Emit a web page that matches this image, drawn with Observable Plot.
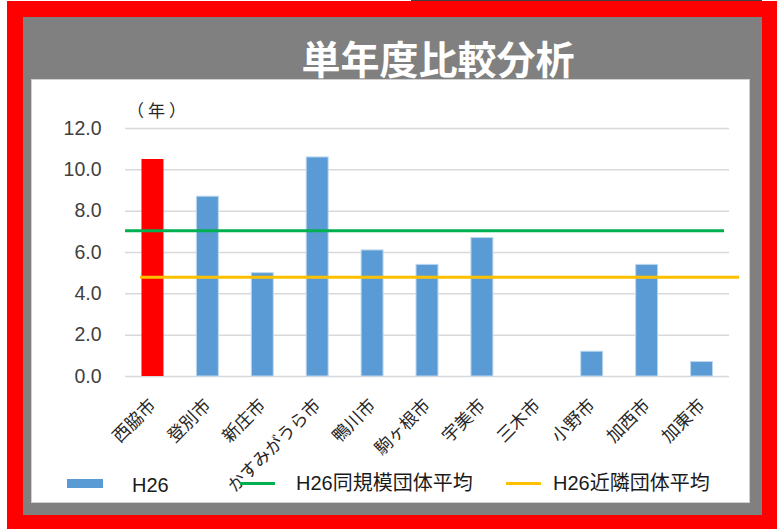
<!DOCTYPE html>
<html>
<head>
<meta charset="utf-8">
<script src="https://cdn.jsdelivr.net/npm/d3@7"></script>
<script src="https://cdn.jsdelivr.net/npm/@observablehq/plot@0.6"></script>
<style>
  html, body { margin: 0; padding: 0; background: #fff; }
  #wrap { position: relative; width: 777px; height: 529px; overflow: hidden; font-family: "Liberation Sans", "Noto Sans CJK JP", sans-serif; }
  .abs { position: absolute; }
  #title { left: 138px; top: 37px; width: 600px; height: 40px; line-height: 40px; text-align: center; color: #fff; font-weight: bold; font-size: 39px; font-family: "Noto Sans CJK JP", sans-serif; white-space: nowrap; }
  #unit { left: 127px; top: 99px; font-size: 17px; letter-spacing: 4px; line-height: 22px; color: #262626; font-family: "Noto Sans CJK JP", sans-serif; white-space: nowrap; }
  .lgtext { font-size: 20px; line-height: 24px; color: #1a1a1a; white-space: nowrap; }
  #chart { left: 0; top: 0; }
</style>
</head>
<body>
<div id="wrap">
  <div class="abs" style="left:7px;top:1px;width:770px;height:528px;background:#ff0000"></div>
  <div class="abs" style="left:411px;top:0;width:351px;height:1px;background:#404040"></div>
  <div class="abs" style="left:23px;top:17px;width:739px;height:498px;background:#808080"></div>
  <div class="abs" style="left:32px;top:80px;width:717px;height:422px;background:#ffffff;box-shadow:0 0 0 1px #d0d0d0"></div>
  <div id="title" class="abs"></div>
  <div id="unit" class="abs"></div>
  <div id="chart" class="abs"></div>
  <div id="legend"></div>
</div>
<script>
// ---- data ----
const titleText = "単年度比較分析";
const unitText = "（年）";
const cities = ["西脇市", "登別市", "新庄市", "かすみがうら市", "鴨川市", "駒ヶ根市", "宇美市", "三木市", "小野市", "加西市", "加東市"];
const h26 = [10.5, 8.7, 5.0, 10.6, 6.1, 5.4, 6.7, null, 1.2, 5.4, 0.7];
const highlightCity = "西脇市";
const sameScaleAvg = 7.05;   // H26同規模団体平均
const nearbyAvg = 4.8;       // H26近隣団体平均
const yTicks = [0, 2, 4, 6, 8, 10, 12];
const seriesNames = ["H26", "H26同規模団体平均", "H26近隣団体平均"];

// ---- colours ----
const blue = "#5b9bd5", red = "#ff0000", green = "#00b050", yellow = "#ffc000";

const data = cities.map((c, i) => ({city: c, value: h26[i]}));

document.getElementById("title").textContent = titleText;
document.getElementById("unit").textContent = unitText;

const chart = Plot.plot({
  width: 777,
  height: 529,
  marginLeft: 125,
  marginRight: 48,
  marginTop: 128,
  marginBottom: 153,
  style: {background: "transparent", fontFamily: "'Liberation Sans', 'Noto Sans CJK JP', sans-serif", overflow: "visible"},
  x: {domain: cities, paddingInner: 0.6, paddingOuter: 0.3, round: false, label: null},
  y: {domain: [0, 12], ticks: yTicks, label: null},
  marks: [
    Plot.gridY({ticks: yTicks, stroke: "#d9d9d9", strokeOpacity: 1, strokeWidth: 1.5}),
    Plot.axisY({ticks: yTicks, tickFormat: d3.format(".1f"), tickSize: 0, tickPadding: 24, fontSize: 19.5, fill: "#404040", label: null}),
    Plot.axisX({tickRotate: -45, tickSize: 0, tickPadding: 26, fontSize: 17.5, fill: "#262626", label: null, fontFamily: "'Noto Sans CJK JP', sans-serif"}),
    Plot.barY(data.filter(d => d.value != null && d.city !== highlightCity), {x: "city", y: "value", fill: blue, stroke: "#bdd7ee", strokeWidth: 1}),
    Plot.barY(data.filter(d => d.city === highlightCity), {x: "city", y: "value", fill: red}),
    Plot.ruleY([sameScaleAvg], {stroke: green, strokeWidth: 3, insetRight: 5}),
    Plot.ruleY([nearbyAvg], {stroke: yellow, strokeWidth: 3, insetLeft: 15, insetRight: -10})
  ]
});
document.getElementById("chart").appendChild(chart);

// ---- legend ----
const legend = document.getElementById("legend");
function add(html) { legend.insertAdjacentHTML("beforeend", html); }
add(`<div class="abs" style="left:67px;top:479px;width:36px;height:9px;background:${blue}"></div>`);
add(`<div class="abs lgtext" style="left:132px;top:473px">${seriesNames[0]}</div>`);
add(`<div class="abs" style="left:240px;top:482px;width:35px;height:3px;background:${green}"></div>`);
add(`<div class="abs lgtext" style="left:296px;top:471px">${seriesNames[1]}</div>`);
add(`<div class="abs" style="left:506px;top:482px;width:35px;height:3px;background:${yellow}"></div>`);
add(`<div class="abs lgtext" style="left:553px;top:471px">${seriesNames[2]}</div>`);
</script>
</body>
</html>
